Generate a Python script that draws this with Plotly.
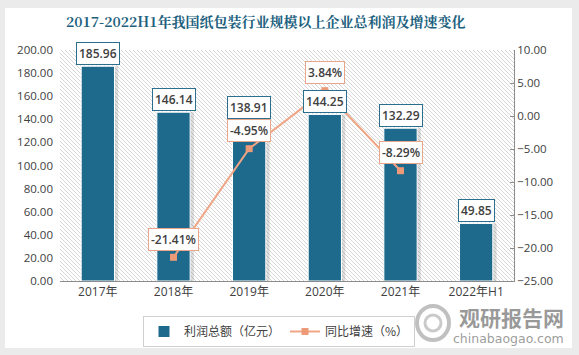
import base64
import plotly.graph_objects as go

categories = ["2017年", "2018年", "2019年", "2020年", "2021年", "2022年H1"]
profit = [185.96, 146.14, 138.91, 144.25, 132.29, 49.85]
growth = [None, -21.41, -4.95, 3.84, -8.29, None]
left_ticks = [0, 20, 40, 60, 80, 100, 120, 140, 160, 180, 200]
right_ticks = [-25, -20, -15, -10, -5, 0, 5, 10]

TITLE = "2017-2022H1年我国纸包装行业规模以上企业总利润及增速变化"
BAR_COLOR = "#1E6A8D"
LINE_COLOR = "#F0A584"
MARK_COLOR = "#EC9A78"
TXT = "#404040"
FONT = "Open Sans, Noto Sans CJK SC, sans-serif"

W, H = 579, 355
ML, MR, MT, MB = 60, 65, 50, 74
pw, ph = W - ML - MR, H - MT - MB


def px(x):
    return (x - ML) / pw


def py(y):
    return (H - MB - y) / ph


# hatch pattern image for plot area
lines = []
step = 4
for k in range(-ph, pw + ph, step):
    lines.append(f'<line x1="{k}" y1="0" x2="{k + ph}" y2="{ph}" />')
svg = (f'<svg xmlns="http://www.w3.org/2000/svg" width="{pw}" height="{ph}" viewBox="0 0 {pw} {ph}">'
       f'<rect width="{pw}" height="{ph}" fill="white"/>'
       f'<g stroke="#cdcdcd" stroke-width="0.8">' + "".join(lines) + '</g></svg>')
hatch_uri = "data:image/svg+xml;base64," + base64.b64encode(svg.encode()).decode()

fig = go.Figure()

bw = 0.44
fig.add_trace(go.Bar(
    x=categories, y=profit, width=bw, offset=-bw / 2 + 0.05,
    marker=dict(color="rgba(0,0,0,0.13)", line=dict(width=0)),
    showlegend=False, hoverinfo="skip"))
fig.add_trace(go.Bar(
    x=categories, y=profit, width=bw, offset=-bw / 2, name="利润总额（亿元）",
    marker=dict(color=BAR_COLOR, line=dict(color="white", width=1))))
fig.add_trace(go.Scatter(
    x=categories, y=growth, yaxis="y2", name="同比增速（%）", mode="lines+markers",
    line=dict(color=LINE_COLOR, width=2),
    marker=dict(symbol="square", size=7, color=MARK_COLOR),
    connectgaps=False))

annotations = []
for c, v in zip(categories, profit):
    annotations.append(dict(
        x=c, y=v, xref="x", yref="y", text=f"{v:.2f}", showarrow=False,
        yshift=13, font=dict(family=FONT, size=12, color=TXT, weight=600),
        bgcolor="white", bordercolor="#2B6F8E", borderwidth=1, borderpad=2))
for c, v in zip(categories, growth):
    if v is None:
        continue
    annotations.append(dict(
        x=c, y=v, xref="x", yref="y2", text=f"{v:.2f}%", showarrow=False,
        yshift=18, font=dict(family=FONT, size=12, color=TXT, weight=600),
        bgcolor="white", bordercolor="#E9A68A", borderwidth=1, borderpad=2))

annotations.append(dict(
    x=px(266), y=py(21), xref="paper", yref="paper", yanchor="middle",
    xanchor="center", showarrow=False, text=f"<b>{TITLE}</b>",
    font=dict(family="Noto Serif CJK SC, Noto Sans CJK SC, serif", size=14, color="#215F7E")))
annotations.append(dict(
    x=px(566), y=py(317), xref="paper", yref="paper", xanchor="right",
    yanchor="middle", showarrow=False, text="<b>观研报告网</b>",
    font=dict(family="Noto Sans CJK SC, sans-serif", size=21, color="rgba(120,120,120,0.75)")))
annotations.append(dict(
    x=px(566), y=py(338), xref="paper", yref="paper", xanchor="right",
    yanchor="middle", showarrow=False, text="chinabaogao.com",
    font=dict(family="DejaVu Sans, sans-serif", size=12.5, color="rgba(130,130,130,0.8)")))

FRAME = "#EBEBEB"
shapes = [
    dict(type="rect", xref="paper", yref="paper", x0=px(0), x1=px(W), y0=py(0), y1=py(8),
         fillcolor=FRAME, line=dict(width=0), layer="below"),
    dict(type="rect", xref="paper", yref="paper", x0=px(0), x1=px(W), y0=py(348), y1=py(H),
         fillcolor=FRAME, line=dict(width=0), layer="below"),
    dict(type="rect", xref="paper", yref="paper", x0=px(0), x1=px(5), y0=py(0), y1=py(H),
         fillcolor=FRAME, line=dict(width=0), layer="below"),
    dict(type="rect", xref="paper", yref="paper", x0=px(572), x1=px(W), y0=py(0), y1=py(H),
         fillcolor=FRAME, line=dict(width=0), layer="below"),
    dict(type="circle", xref="paper", yref="paper", x0=px(417), x1=px(449),
         y0=py(340), y1=py(306), line=dict(color="rgba(150,150,150,0.6)", width=4),
         layer="above"),
    dict(type="circle", xref="paper", yref="paper", x0=px(425), x1=px(441),
         y0=py(331), y1=py(315), line=dict(color="rgba(150,150,150,0.5)", width=3),
         layer="above"),
]

fig.update_layout(
    width=W, height=H,
    margin=dict(l=ML, r=MR, t=MT, b=MB, pad=0, autoexpand=False),
    paper_bgcolor="white", plot_bgcolor="rgba(0,0,0,0)",
    barmode="overlay",
    font=dict(family=FONT, size=11, color=TXT),
    xaxis=dict(showgrid=False, showline=True, linecolor="#8C8C8C", linewidth=1,
               ticks="", tickfont=dict(size=12, color=TXT), fixedrange=True),
    yaxis=dict(range=[0, 200], tickvals=left_ticks, tickformat=".2f",
               showgrid=False, showline=False, zeroline=False, ticks="",
               tickfont=dict(size=11.5, color=TXT), ticklabelstandoff=6),
    yaxis2=dict(range=[-25, 10], tickvals=right_ticks, tickformat=".2f", ticksuffix="%",
                overlaying="y", side="right", showgrid=False, zeroline=False,
                showline=True, linecolor="#8C8C8C", linewidth=1,
                ticks="inside", ticklen=4, tickcolor="#8C8C8C",
                tickfont=dict(size=11.5, color=TXT)),
    legend=dict(orientation="h", x=px(279), xanchor="center", y=py(316), yanchor="top",
                bordercolor="#D0D0D0", borderwidth=1, bgcolor="white",
                font=dict(family="Noto Sans CJK SC, sans-serif", size=12, color=TXT),
                traceorder="normal"),
    annotations=annotations,
    shapes=shapes,
    images=[dict(source=hatch_uri, xref="paper", yref="paper", x=0, y=1,
                 sizex=1, sizey=1, sizing="stretch", xanchor="left", yanchor="top",
                 layer="below")],
    showlegend=True,
)

fig.write_html("out.html", config={"displayModeBar": False},
               post_script="document.body.style.margin='0px';")
